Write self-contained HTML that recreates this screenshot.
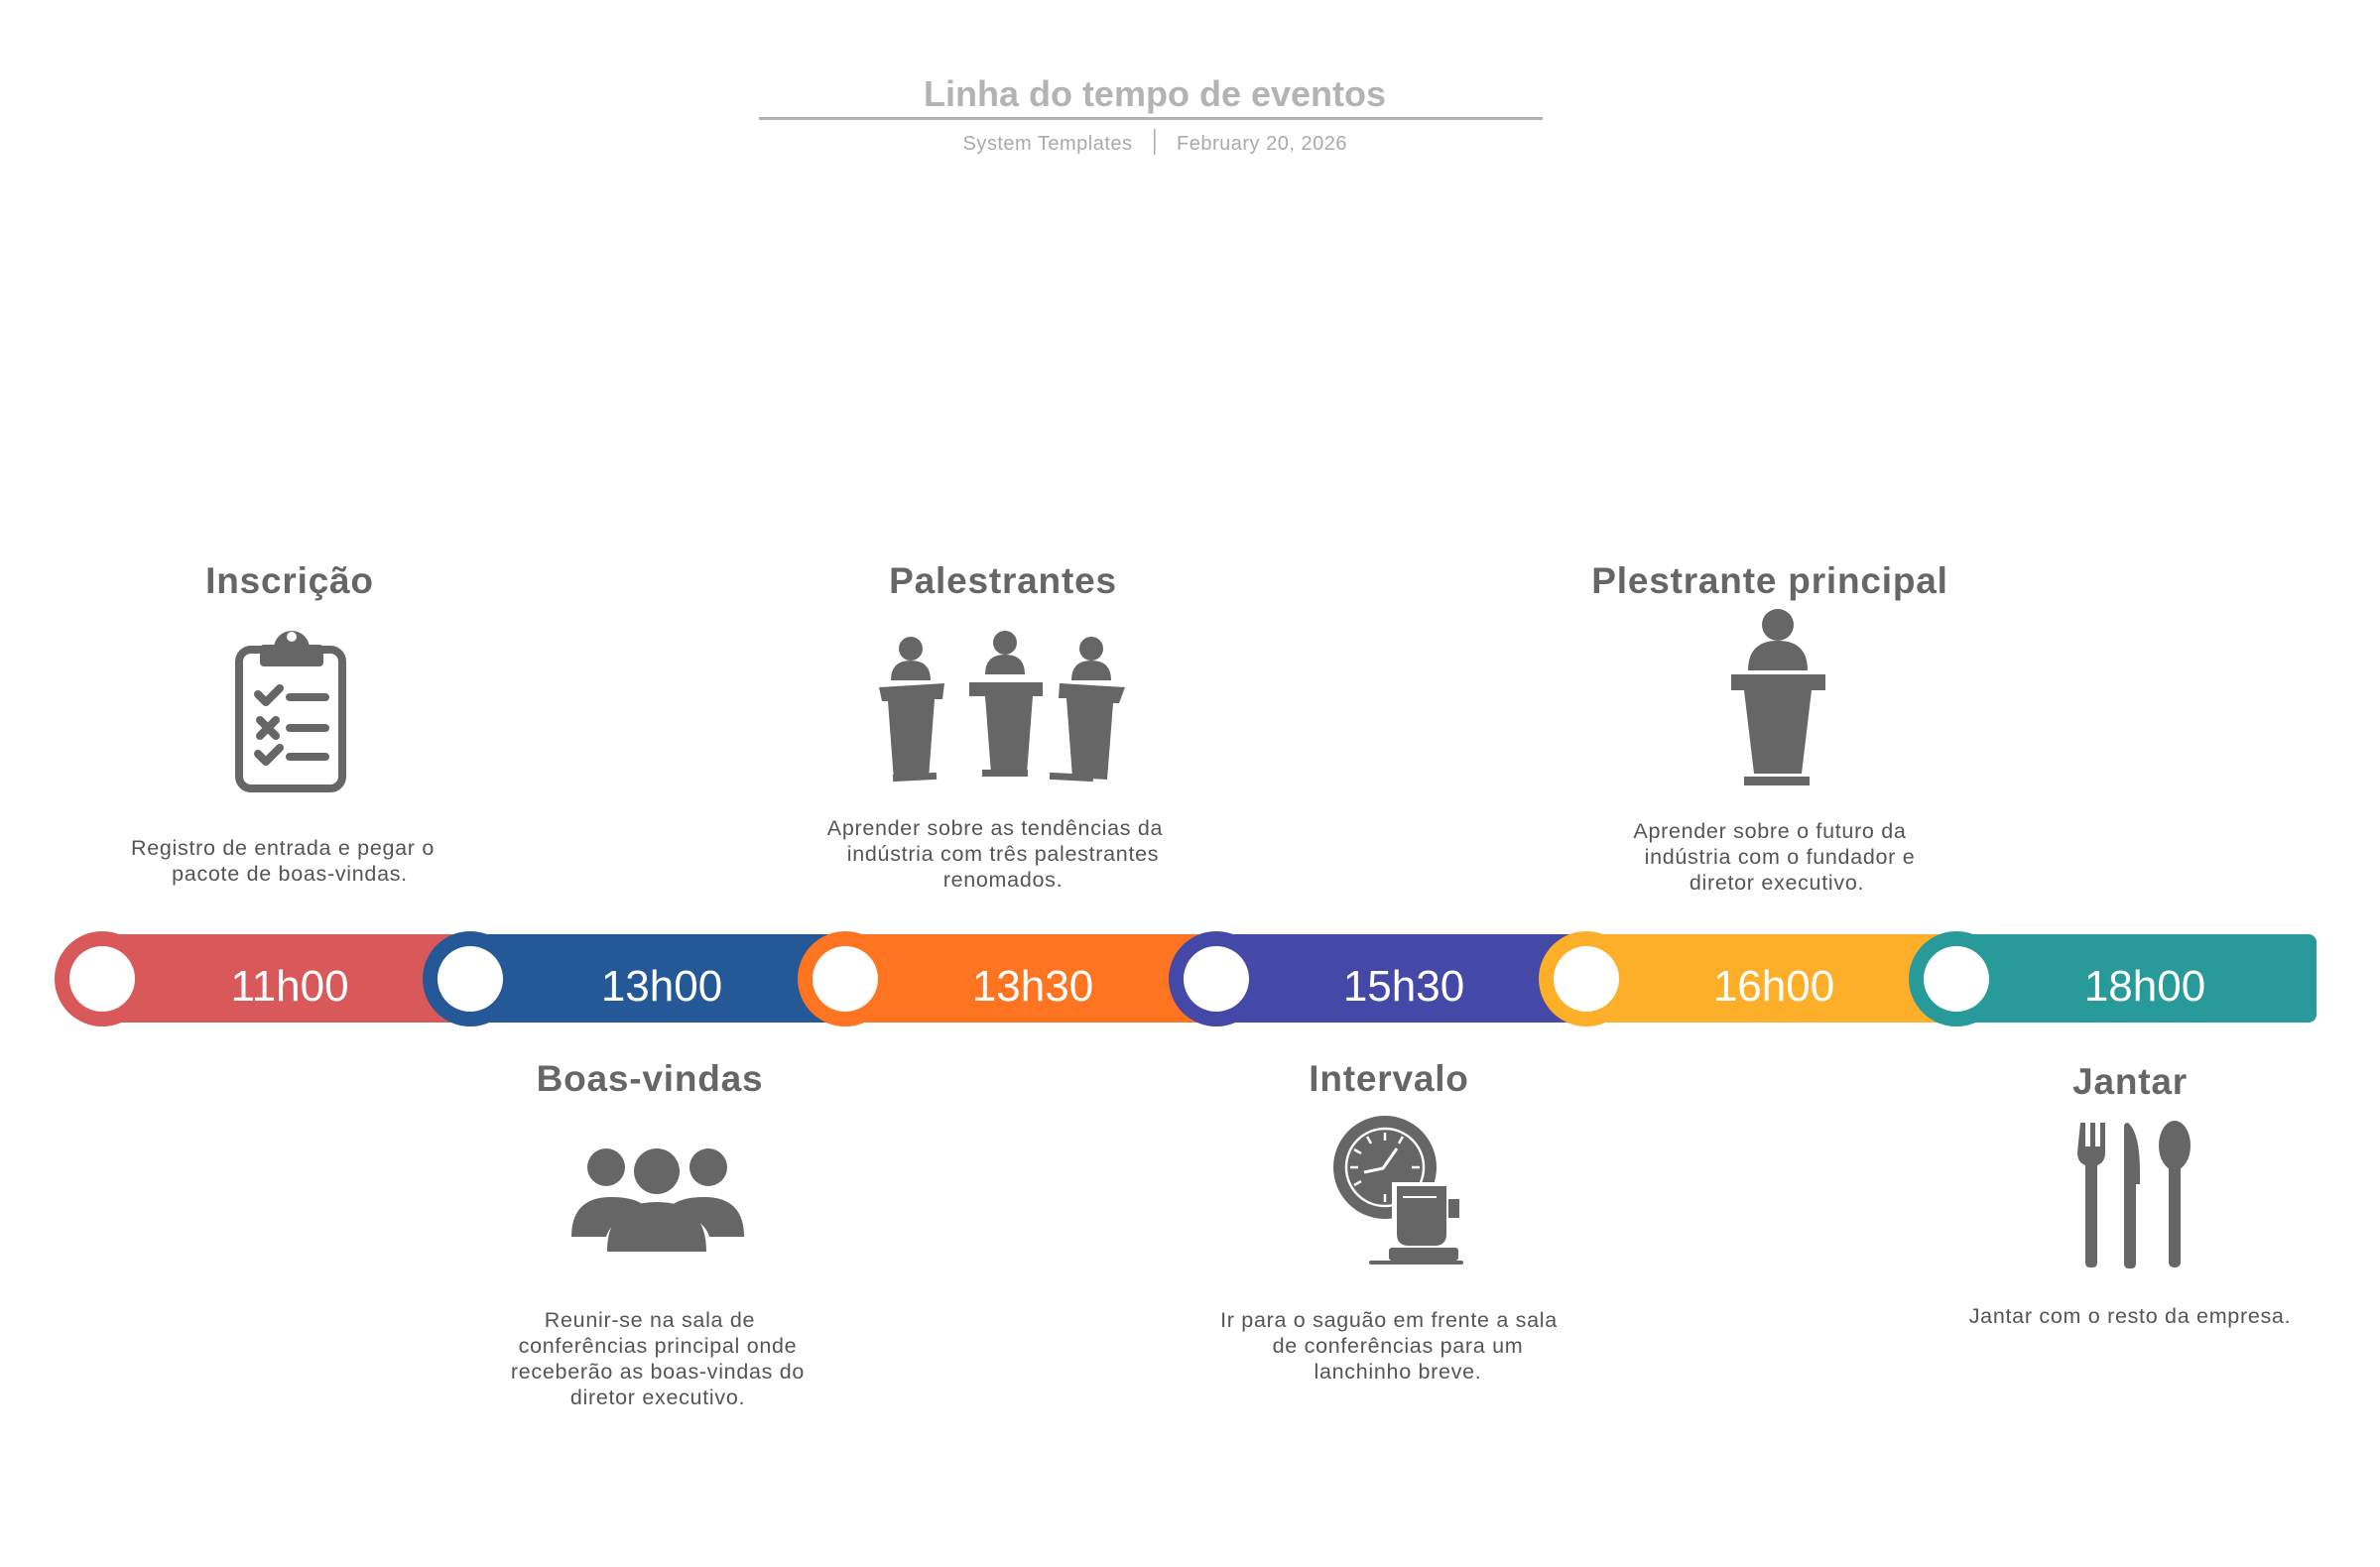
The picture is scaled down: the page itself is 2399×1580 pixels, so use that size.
<!DOCTYPE html>
<html><head><meta charset="utf-8"><style>
html,body{margin:0;padding:0;background:#fff;}
svg{display:block;font-family:"Liberation Sans",sans-serif;}
</style></head><body>
<svg width="2399" height="1580" viewBox="0 0 2399 1580" xmlns="http://www.w3.org/2000/svg">
<rect width="2399" height="1580" fill="#fff"/>
<text x="1164" y="107" text-anchor="middle" font-size="36" font-weight="bold" fill="#b3b3b3">Linha do tempo de eventos</text>
<rect x="765" y="118" width="790" height="3" fill="#b3b3b3"/>
<text x="1056" y="151" text-anchor="middle" font-size="20" letter-spacing="0.5" fill="#aaa">System Templates</text>
<rect x="1163" y="130" width="1.5" height="26" fill="#aaa"/>
<text x="1272" y="151" text-anchor="middle" font-size="20" letter-spacing="0.5" fill="#aaa">February 20, 2026</text>

<rect x="103" y="942" width="380" height="89" fill="#D9585A"/>
<rect x="474" y="942" width="388" height="89" fill="#245896"/>
<rect x="852" y="942" width="384" height="89" fill="#FF7420"/>
<rect x="1226" y="942" width="383" height="89" fill="#4449A8"/>
<rect x="1599" y="942" width="383" height="89" fill="#FEAF2A"/>
<rect x="1972" y="942" width="363" height="89" rx="8" fill="#289A9A"/>
<g>
<circle cx="103" cy="987" r="48" fill="#D9585A"/><circle cx="103" cy="987" r="33" fill="#fff"/>
<circle cx="474" cy="987" r="48" fill="#245896"/><circle cx="474" cy="987" r="33" fill="#fff"/>
<circle cx="852" cy="987" r="48" fill="#FF7420"/><circle cx="852" cy="987" r="33" fill="#fff"/>
<circle cx="1226" cy="987" r="48" fill="#4449A8"/><circle cx="1226" cy="987" r="33" fill="#fff"/>
<circle cx="1599" cy="987" r="48" fill="#FEAF2A"/><circle cx="1599" cy="987" r="33" fill="#fff"/>
<circle cx="1972" cy="987" r="48" fill="#289A9A"/><circle cx="1972" cy="987" r="33" fill="#fff"/>
</g>
<g font-size="44" fill="#fff" text-anchor="middle">
<text x="292" y="1009">11h00</text>
<text x="667" y="1009">13h00</text>
<text x="1041" y="1009">13h30</text>
<text x="1415" y="1009">15h30</text>
<text x="1788" y="1009">16h00</text>
<text x="2162" y="1009">18h00</text>
</g>

<g font-size="37" font-weight="bold" fill="#666" text-anchor="middle" letter-spacing="0.8">
<text x="292" y="598">Inscrição</text>
<text x="1011" y="598">Palestrantes</text>
<text x="1784" y="598">Plestrante principal</text>
<text x="655" y="1100">Boas-vindas</text>
<text x="1400" y="1100">Intervalo</text>
<text x="2147" y="1103">Jantar</text>
</g>
<g font-size="21.5" fill="#555" text-anchor="middle" letter-spacing="0.7">
<text x="285" y="862">Registro de entrada e pegar o</text>
<text x="292" y="888">pacote de boas-vindas.</text>
<text x="1003" y="842">Aprender sobre as tendências da</text>
<text x="1011" y="868">indústria com três palestrantes</text>
<text x="1011" y="894">renomados.</text>
<text x="1784" y="845">Aprender sobre o futuro da</text>
<text x="1794" y="871">indústria com o fundador e</text>
<text x="1791" y="897">diretor executivo.</text>
<text x="655" y="1338">Reunir-se na sala de</text>
<text x="663" y="1364">conferências principal onde</text>
<text x="663" y="1390">receberão as boas-vindas do</text>
<text x="663" y="1416">diretor executivo.</text>
<text x="1400" y="1338">Ir para o saguão em frente a sala</text>
<text x="1409" y="1364">de conferências para um</text>
<text x="1409" y="1390">lanchinho breve.</text>
<text x="2147" y="1334">Jantar com o resto da empresa.</text>
</g>

<g fill="none" stroke="#666" stroke-width="8" stroke-linecap="round" stroke-linejoin="round">
<rect x="241" y="655" width="104" height="140" rx="12"/>
<path d="M266 668 h56 v-14 h-14 a14 14 0 0 0 -28 0 h-14 z" fill="#666"/>
<path d="M260 700 l8 8 l14 -14 M292 703 h36"/>
<path d="M262 726 l16 16 M278 726 l-16 16 M292 734 h36"/>
<path d="M260 760 l8 8 l14 -14 M292 763 h36"/>
</g>
<circle cx="294" cy="642" r="5" fill="#fff"/>

<g fill="#666">
<circle cx="918" cy="654" r="12"/>
<path d="M898 686 q0 -20 20 -20 q20 0 20 20 z"/>
<path d="M886 693 l66 -4 l-2 16 l-8 0 l-6 80 l-35 2 l-6 -80 l-6 0 z"/>
<rect x="900" y="780" width="44" height="7" transform="rotate(-3 922 783)"/>
<circle cx="1013" cy="648" r="12"/>
<path d="M993 680 q0 -20 20 -20 q20 0 20 20 z"/>
<path d="M977 688 h74 v14 h-10 l-6 78 h-36 l-6 -78 h-16 z"/>
<rect x="990" y="776" width="46" height="7"/>
<circle cx="1100" cy="654" r="12"/>
<path d="M1080 686 q0 -20 20 -20 q20 0 20 20 z"/>
<path d="M1068 689 l66 4 l-6 16 l-6 0 l-6 77 l-35 -2 l-6 -80 l-8 0 z"/>
<rect x="1058" y="780" width="44" height="7" transform="rotate(3 1080 783)"/>
</g>

<g fill="#666">
<circle cx="1792" cy="630" r="16"/>
<path d="M1762 676 q0 -30 30 -30 q30 0 30 30 z"/>
<path d="M1745 680 h95 v16 h-14 l-10 84 h-48 l-10 -84 h-13 z"/>
<rect x="1758" y="783" width="66" height="9"/>
</g>

<g fill="#666">
<circle cx="611" cy="1177" r="19"/>
<circle cx="714" cy="1177" r="19"/>
<circle cx="662" cy="1181" r="23"/>
<path d="M576 1247 q0 -40 40 -40 q25 0 35 10 q-35 12 -40 30 z"/>
<path d="M750 1247 q0 -40 -40 -40 q-25 0 -35 10 q35 12 40 30 z"/>
<path d="M612 1262 q0 -50 50 -50 q50 0 50 50 z"/>
</g>

<g>
<circle cx="1396" cy="1177" r="52" fill="#666"/>
<circle cx="1396" cy="1177" r="39" fill="none" stroke="#fff" stroke-width="2.5"/>
<path d="M1375 1182 l19 -4 l14 -20" fill="none" stroke="#fff" stroke-width="3"/>
<path d="M1396 1142 v8 M1396 1204 v8 M1361 1177 h8 M1423 1177 h8 M1378 1146 l4 7 M1414 1146 l-4 7 M1365 1159 l7 4 M1365 1195 l7 -4" stroke="#fff" stroke-width="2.5"/>
<path d="M1403 1192 h59 v52 q0 16 -16 16 h-27 q-16 0 -16 -16 z" fill="#fff"/>
<path d="M1408 1196 h50 v48 q0 12 -12 12 h-26 q-12 0 -12 -12 z" fill="#666"/>
<path d="M1414 1207 h34" stroke="#fff" stroke-width="2"/>
<rect x="1460" y="1209" width="11" height="19" fill="#666"/>
<rect x="1400" y="1258" width="70" height="13" rx="3" fill="#666"/>
<rect x="1380" y="1271" width="95" height="4" rx="2" fill="#666"/>
</g>

<g fill="#666">
<path d="M2097 1132 h5 v24 h5 v-24 h5 v24 h5 v-24 h5 v30 q0 10 -8 13 v98 q0 5 -5 5 h-2 q-5 0 -5 -5 v-98 q-8 -3 -8 -13 z"/>
<path d="M2145 1132 q12 10 12 50 v12 h-4 v80 q0 5 -5 5 h-2 q-5 0 -5 -5 v-138 q0 -4 4 -4 z"/>
<ellipse cx="2192" cy="1155" rx="16" ry="25"/>
<rect x="2186" y="1170" width="12" height="108" rx="5"/>
</g>
</svg>
</body></html>
